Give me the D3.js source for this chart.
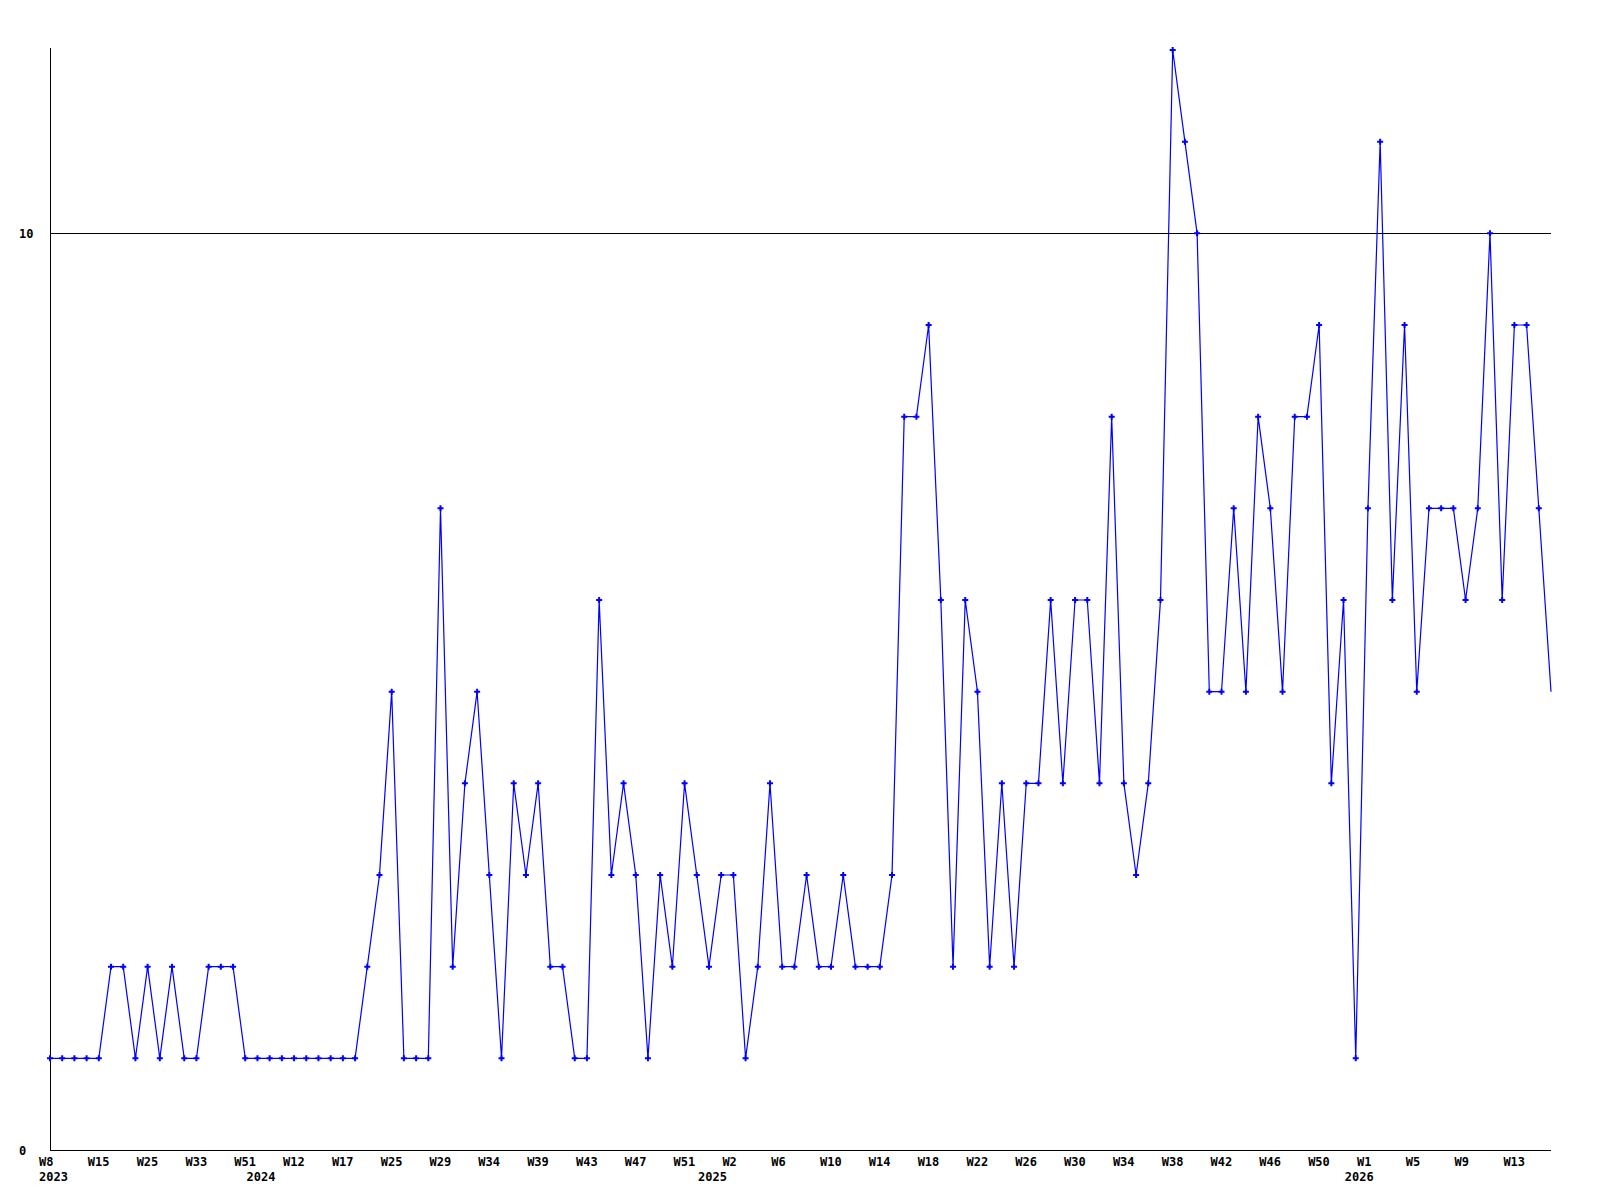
<!DOCTYPE html>
<html>
<head>
<meta charset="utf-8">
<script src="https://cdn.jsdelivr.net/npm/d3@7"></script>
<style>
  html, body { margin: 0; padding: 0; background: #fff; }
  svg { display: block; }
  text { font-family: "DejaVu Sans Mono", "Liberation Mono", monospace; font-weight: bold; font-size: 12px; fill: #000; }
</style>
</head>
<body>
<svg id="chart" width="1600" height="1200"></svg>
<script>
// Weekly values (one per plotted week, in order)
const values = [
  1, 1, 1, 1, 1, 2, 2, 1, 2, 1,
  2, 1, 1, 2, 2, 2, 1, 1, 1, 1,
  1, 1, 1, 1, 1, 1, 2, 3, 5, 1,
  1, 1, 7, 2, 4, 5, 3, 1, 4, 3,
  4, 2, 2, 1, 1, 6, 3, 4, 3, 1,
  3, 2, 4, 3, 2, 3, 3, 1, 2, 4,
  2, 2, 3, 2, 2, 3, 2, 2, 2, 3,
  8, 8, 9, 6, 2, 6, 5, 2, 4, 2,
  4, 4, 6, 4, 6, 6, 4, 8, 4, 3,
  4, 6, 12, 11, 10, 5, 5, 7, 5, 8,
  7, 5, 8, 8, 9, 4, 6, 1, 7, 11,
  6, 9, 5, 7, 7, 7, 6, 7, 10, 6,
  9, 9, 7, 5
];

// Tick labels shown every 4th week
const tickStep = 4;
const tickLabels = [
  "W8", "W15", "W25", "W33", "W51", "W12", "W17", "W25", "W29", "W34",
  "W39", "W43", "W47", "W51", "W2", "W6", "W10", "W14", "W18", "W22",
  "W26", "W30", "W34", "W38", "W42", "W46", "W50", "W1", "W5", "W9", "W13"
];

// Year labels and the week index where each year starts
const yearLabels = ["2023", "2024", "2025", "2026"];
const yearIndex = [0, 17, 54, 107];

// Y axis labelled values
const yTicks = [0, 10];
const yMax = 12;

(function () {
const svg = d3.select("#chart");
const mLeft = 50, mRight = 1551, mTop = 50, mBottom = 1150;

const x = d3.scaleLinear().domain([0, values.length - 1]).range([mLeft, mRight]);
const y = d3.scaleLinear().domain([0, yMax]).range([mBottom, mTop]);

// Grid line at 10
svg.append("g").selectAll("line")
  .data(yTicks.filter(d => d > 0))
  .join("line")
  .attr("x1", mLeft).attr("x2", mRight)
  .attr("y1", d => Math.round(y(d)) + 0.5).attr("y2", d => Math.round(y(d)) + 0.5)
  .attr("stroke", "#000").attr("stroke-width", 1);

// Axes lines
svg.append("line")
  .attr("x1", mLeft + 0.5).attr("x2", mLeft + 0.5)
  .attr("y1", mTop - 2).attr("y2", mBottom)
  .attr("stroke", "#000");
svg.append("line")
  .attr("x1", mLeft).attr("x2", mRight)
  .attr("y1", mBottom + 0.5).attr("y2", mBottom + 0.5)
  .attr("stroke", "#000");

// Y labels
svg.append("g").selectAll("text")
  .data(yTicks)
  .join("text")
  .attr("x", 19)
  .attr("y", d => y(d) + 4.5)
  .text(d => d);

// X week labels
svg.append("g").selectAll("text")
  .data(tickLabels)
  .join("text")
  .attr("x", (d, i) => x(i * tickStep) - 11)
  .attr("y", 1166)
  .text(d => d);

// Year labels
svg.append("g").selectAll("text")
  .data(yearLabels)
  .join("text")
  .attr("x", (d, i) => x(yearIndex[i]) - 11)
  .attr("y", 1181)
  .text(d => d);

// Line
const line = d3.line()
  .x((d, i) => x(i))
  .y(d => y(d));

svg.append("path")
  .datum(values)
  .attr("d", line)
  .attr("fill", "none")
  .attr("stroke", "#0000ff")
  .attr("stroke-width", 1.2);

// Point markers (small crosses)
const marker = d3.symbol().type(d3.symbolCross).size(20);
svg.append("g").selectAll("path")
  .data(values.slice(0, values.length - 1))
  .join("path")
  .attr("transform", (d, i) => `translate(${x(i)},${y(d)})`)
  .attr("d", marker)
  .attr("fill", "#0000ff");
})();
</script>
</body>
</html>
